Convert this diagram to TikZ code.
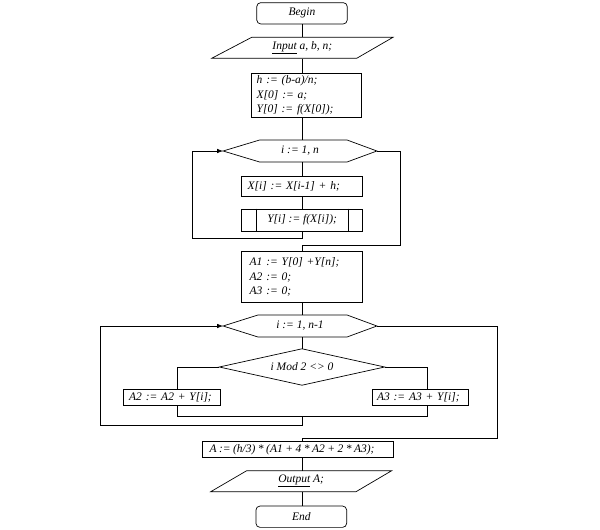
\documentclass[tikz,border=0pt]{standalone}
\usepackage{fontspec}
\setmainfont{Liberation Serif}
\usetikzlibrary{calc,arrows.meta}
\begin{document}
\begin{tikzpicture}[x=1pt,y=-1pt,
  every node/.style={font=\fontsize{11.5}{14.6}\selectfont\itshape, inner sep=0pt},
  ln/.style={line width=0.7pt},
  term/.style={draw, ln, rounded corners=4pt},
  proc/.style={draw, ln},
  arr/.style={ln,-{Latex[length=6pt,width=4.5pt]}},
]
\useasboundingbox (0,0) rectangle (600,530);
\coordinate (ax) at (302.5,0);

% nodes
\node[term, minimum width=90.5pt, minimum height=21.3pt] (B) at (302,13.3) {Begin};
\node[minimum width=100pt, minimum height=21pt] (In) at (302.3,47.8) {\underline{Input} a, b, n;};
\draw[ln] (211.7,58.3) -- (251.7,37.3) -- (393,37.3) -- (356.7,58.3) -- cycle;

\node[proc, minimum width=110pt, minimum height=44pt, text width=100pt, align=left] (H) at (306.7,95.3)
  {h := (b-a)/n;\\ X[0] := a;\\ Y[0] := f(X[0]);};

\node[minimum width=153.4pt, minimum height=21.7pt] (L1) at (300,151) {i := 1, n};
\draw[ln] (L1.west) -- ($(L1.north west)+(36.7,0)$) -- ($(L1.north east)+(-30,0)$) -- (L1.east)
  -- ($(L1.south east)+(-30,0)$) -- ($(L1.south west)+(36.7,0)$) -- cycle;

\node[proc, minimum width=121pt, minimum height=19.3pt, text width=109pt, align=left] (X) at (302.2,186.3) {X[i] := X[i-1] + h;};
\node[proc, minimum width=121pt, minimum height=22pt] (Y) at (302.2,220) {Y[i] := f(X[i]);};
\draw[ln] ($(Y.north west)+(15,0)$) -- ($(Y.south west)+(15,0)$);
\draw[ln] ($(Y.north east)+(-14.4,0)$) -- ($(Y.south east)+(-14.4,0)$);

\node[proc, minimum width=121pt, minimum height=50.6pt, text width=105pt, align=left] (A1) at (302.2,277)
  {A1 := Y[0] +Y[n];\\ A2 := 0;\\ A3 := 0;};

\node[minimum width=153.4pt, minimum height=21.7pt] (L2) at (300,326) {i := 1, n-1};
\draw[ln] (L2.west) -- ($(L2.north west)+(35,0)$) -- ($(L2.north east)+(-30,0)$) -- (L2.east)
  -- ($(L2.south east)+(-30,0)$) -- ($(L2.south west)+(35,0)$) -- cycle;

\node[minimum width=165pt, minimum height=36pt] (D) at (302,367) {i Mod 2 <> 0};
\draw[ln] (D.west) -- (D.north) -- (D.east) -- (D.south) -- cycle;

\node[proc, minimum width=96.7pt, minimum height=16pt, text width=85pt, align=left] (A2) at (171.7,397) {A2 := A2 + Y[i];};
\node[proc, minimum width=95.6pt, minimum height=16pt, text width=87pt, align=left] (A3) at (420.5,397) {A3 := A3 + Y[i];};

\node[proc, minimum width=190.6pt, minimum height=15.6pt, text width=177pt, align=left] (A) at (298,449.5)
  {\spaceskip=2.5pt plus 0.5pt minus 0.3pt A := (h/3) * (A1 + 4 * A2 + 2 * A3);};

\node[minimum width=100pt, minimum height=21pt] (Out) at (301.2,481.2) {\underline{Output} A;};
\draw[ln] (210.7,491.7) -- (246.7,470.7) -- (391.7,470.7) -- (356,491.7) -- cycle;

\node[term, minimum width=90.7pt, minimum height=21.3pt] (E) at (301.3,516.7) {End};

% connectors
\draw[ln] (B.south -| ax) -- (In.north -| ax);
\draw[ln] (In.south -| ax) -- (H.north -| ax);
\draw[ln] (H.south -| ax) -- (L1.north -| ax);
\draw[ln] (L1.south -| ax) -- (X.north -| ax);
\draw[ln] (X.south -| ax) -- (Y.north -| ax);
\coordinate (r1) at (192.7,238.3);
\draw[arr] (Y.south -| ax) |- (r1) |- (L1.west);
\coordinate (e1) at (400.7,245);
\draw[ln] (L1.east) -| (e1) -| (A1.north -| ax);

\draw[ln] (A1.south -| ax) -- (L2.north -| ax);
\draw[ln] (L2.south -| ax) -- (D.north -| ax);
\coordinate (bl) at (177.3,0);
\coordinate (br) at (427.3,0);
\draw[ln] (D.west) -| (A2.north -| bl);
\draw[ln] (D.east) -| (A3.north -| br);
\coordinate (j) at (302.5,416);
\draw[ln] (A2.south -| bl) |- (j);
\draw[ln] (A3.south -| br) |- (j);
\coordinate (r2) at (100,425);
\draw[arr] (j) |- (r2) |- (L2.west);
\coordinate (e2) at (497.3,438.3);
\draw[ln] (L2.east) -| (e2) -| (A.north -| ax);

\draw[ln] (A.south -| ax) -- (Out.north -| ax);
\draw[ln] (Out.south -| ax) -- (E.north -| ax);
\end{tikzpicture}
\end{document}
